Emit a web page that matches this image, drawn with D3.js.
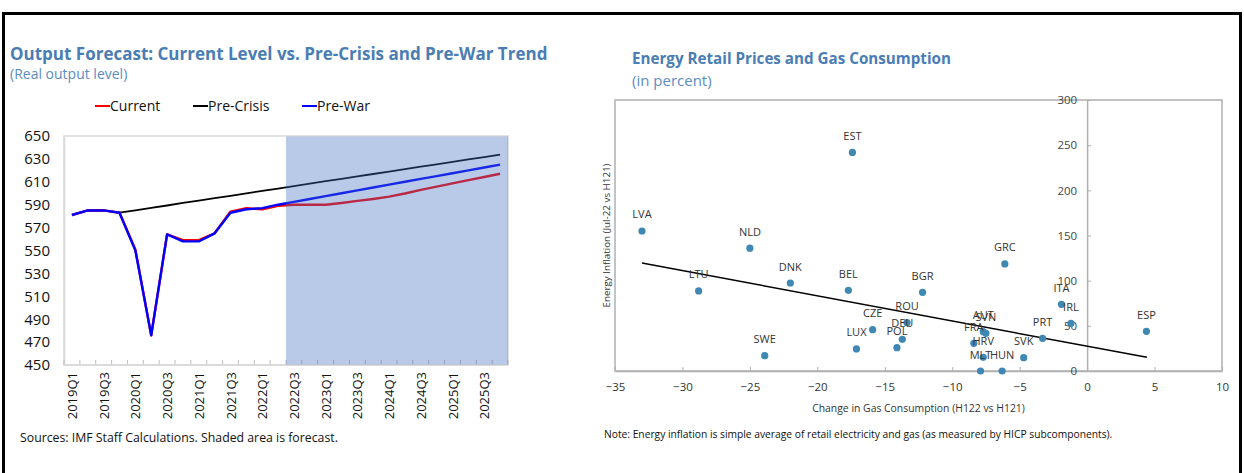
<!DOCTYPE html>
<html>
<head>
<meta charset="utf-8">
<script src="https://cdn.jsdelivr.net/npm/d3@7"></script>
<style>
  body { margin: 0; background: #fff; }
  svg { display: block; font-family: "Open Sans", "Noto Sans", sans-serif; }
</style>
</head>
<body>
<script>
// ---- left chart data: output levels by quarter
var quarters = ["2019Q1","2019Q2","2019Q3","2019Q4","2020Q1","2020Q2","2020Q3","2020Q4",
  "2021Q1","2021Q2","2021Q3","2021Q4","2022Q1","2022Q2","2022Q3","2022Q4",
  "2023Q1","2023Q2","2023Q3","2023Q4","2024Q1","2024Q2","2024Q3","2024Q4",
  "2025Q1","2025Q2","2025Q3","2025Q4"];
var quarterLabels = ["2019Q1","2019Q3","2020Q1","2020Q3","2021Q1","2021Q3","2022Q1",
  "2022Q3","2023Q1","2023Q3","2024Q1","2024Q3","2025Q1","2025Q3"];
var current = [581, 585, 585, 583, 551, 476, 564, 559, 559, 565, 584, 587, 586, 589,
  590, 590, 590, 591.5, 593.3, 595, 597, 599.8, 603, 605.8, 608.6, 611.4, 614.2, 617];
var preCrisis = [581, 585, 585, 583, 585.1, 587.2, 589.3, 591.5, 593.6, 595.7, 597.8, 599.9,
  602, 604.1, 606.2, 608.4, 610.5, 612.6, 614.7, 616.8, 618.9, 621, 623.2, 625.3,
  627.4, 629.5, 631.6, 633.7];
var preWar = [581, 585, 585, 583, 550, 476, 564, 558, 558, 565, 583, 586, 587, 590,
  592.5, 595, 597.5, 600, 602.5, 605, 607.5, 610, 612.5, 615, 617.5, 620, 622.5, 625];
var forecastStart = "2022Q3";
var outputTicks = [450, 470, 490, 510, 530, 550, 570, 590, 610, 630, 650];

// ---- right chart data: gas consumption change vs energy inflation
var countries = ["LVA","NLD","EST","LTU","DNK","BEL","SWE","CZE","LUX","POL","DEU","ROU","BGR",
  "GRC","ITA","IRL","ESP","PRT","SVK","MLT","HUN","HRV","FRA","AUT","SVN"];
var gasChange = [-33, -25, -17.4, -28.8, -22, -17.7, -23.9, -15.9, -17.1, -14.1, -13.7, -13.35, -12.2,
  -6.1, -1.9, -1.2, 4.4, -3.3, -4.7, -7.9, -6.3, -7.7, -8.4, -7.7, -7.5];
var energyInfl = [155, 136, 242, 88.6, 97.4, 89.3, 17, 45.8, 24.4, 25.8, 35.1, 53.5, 87.1,
  118.5, 73.8, 52.8, 43.9, 36.2, 14.8, 0, 0, 15.1, 30.6, 43.5, 41.7];
var trendX = [-33, 4.43];
var trendY = [119.6, 15.1];
var gasTicks = [-35, -30, -25, -20, -15, -10, -5, 0, 5, 10];
var inflTicks = [0, 50, 100, 150, 200, 250, 300];

var titleColor = "#4a7db4";

var svg = d3.select("body").append("svg")
  .attr("width", 1244).attr("height", 473);

// outer frame
svg.append("path")
  .attr("d", "M3.5,480V13.5H1240.5V480")
  .attr("fill", "none").attr("stroke", "#000").attr("stroke-width", 3);

// ================= LEFT CHART =================
var L = svg.append("g");
L.append("text").attr("x", 10).attr("y", 60)
  .attr("font-size", 17).attr("font-weight", "bold").attr("fill", titleColor)
  .text("Output Forecast: Current Level vs. Pre-Crisis and Pre-War Trend");
L.append("text").attr("x", 10).attr("y", 79)
  .attr("font-size", 14).attr("fill", "#5b8cc4")
  .text("(Real output level)");

// legend
var legendItems = [
  { name: "Current", color: "#ff0000", x: 95 },
  { name: "Pre-Crisis", color: "#000000", x: 193 },
  { name: "Pre-War", color: "#0000ff", x: 302 }
];
var lg = L.selectAll(".lg").data(legendItems).enter().append("g")
  .attr("transform", function(d) { return "translate(" + d.x + ",106)"; });
lg.append("line").attr("x1", 0).attr("x2", 15).attr("y1", 0).attr("y2", 0)
  .attr("stroke", function(d) { return d.color; }).attr("stroke-width", 2);
lg.append("text").attr("x", 15).attr("y", 5).attr("font-size", 14).attr("fill", "#111")
  .text(function(d) { return d.name; });

var x = d3.scaleBand().domain(quarters).range([64, 508]);
var y = d3.scaleLinear().domain([450, 650]).range([365, 136]);

// plot frame
L.append("rect").attr("x", 64).attr("y", 136).attr("width", 444).attr("height", 229)
  .attr("fill", "#fff").attr("stroke", "#d9d9d9").attr("stroke-width", 1.5);

// y axis labels
var ya = L.append("g").attr("transform", "translate(64,0)")
  .call(d3.axisLeft(y).tickValues(outputTicks).tickSize(0).tickPadding(14));
ya.select(".domain").attr("stroke", "#d9d9d9").attr("stroke-width", 1.5);
ya.selectAll("text").attr("font-size", 15).attr("fill", "#111")
  .attr("font-family", "Open Sans, sans-serif");

// x axis ticks at category edges, pointing up
var edges = quarters.map(function(q) { return x(q); }).concat([x.range()[1]]);
L.selectAll(".xt").data(edges).enter().append("line")
  .attr("x1", function(d) { return d; }).attr("x2", function(d) { return d; })
  .attr("y1", 365).attr("y2", 360).attr("stroke", "#bfbfbf").attr("stroke-width", 1);
L.append("line").attr("x1", 64).attr("x2", 508).attr("y1", 365).attr("y2", 365)
  .attr("stroke", "#d9d9d9").attr("stroke-width", 1.5);

// x labels (rotated)
L.selectAll(".xl").data(quarterLabels).enter().append("text")
  .attr("transform", function(d) {
    return "translate(" + (x(d) + x.bandwidth() / 2 + 5) + ",372) rotate(-90)";
  })
  .attr("text-anchor", "end").attr("font-size", 13).attr("fill", "#111")
  .text(function(d) { return d; });

// lines
var line = d3.line()
  .x(function(d, i) { return x(quarters[i]) + x.bandwidth() / 2; })
  .y(function(d) { return y(d); });
var series = [
  { values: preCrisis, color: "#000", w: 1.8 },
  { values: current, color: "#ff0000", w: 2.4 },
  { values: preWar, color: "#0000ff", w: 2.4 }
];
L.selectAll(".series").data(series).enter().append("path")
  .attr("d", function(d) { return line(d.values); })
  .attr("fill", "none")
  .attr("stroke", function(d) { return d.color; })
  .attr("stroke-width", function(d) { return d.w; })
  .attr("stroke-linejoin", "round");

// forecast shading (semi-transparent over the lines)
L.append("rect").attr("x", x(forecastStart)).attr("y", 136.5)
  .attr("width", 508 - x(forecastStart)).attr("height", 228)
  .attr("fill", "#3f6fbf").attr("fill-opacity", 0.37);

L.append("text").attr("x", 20).attr("y", 442).attr("font-size", 12.3).attr("fill", "#111")
  .text("Sources: IMF Staff Calculations. Shaded area is forecast.");

// ================= RIGHT CHART =================
var R = svg.append("g");
R.append("text").attr("x", 632).attr("y", 64)
  .attr("font-size", 15.2).attr("font-weight", "bold").attr("fill", titleColor)
  .text("Energy Retail Prices and Gas Consumption");
R.append("text").attr("x", 632).attr("y", 86)
  .attr("font-size", 15).attr("fill", "#5b8cc4")
  .text("(in percent)");

var sx = d3.scaleLinear().domain([-35, 10]).range([615, 1222]);
var sy = d3.scaleLinear().domain([0, 300]).range([371, 100]);

R.append("rect").attr("x", 615).attr("y", 100).attr("width", 607).attr("height", 271)
  .attr("fill", "none").attr("stroke", "#b0b0b0").attr("stroke-width", 1.5);

var xa = R.append("g").attr("transform", "translate(0,371)")
  .call(d3.axisBottom(sx).tickValues(gasTicks).tickSizeInner(-4).tickSizeOuter(0).tickPadding(12));
xa.select(".domain").attr("stroke", "#b0b0b0").attr("stroke-width", 1.5);
xa.selectAll("line").attr("stroke", "#b0b0b0");
xa.selectAll("text").attr("font-size", 11.5).attr("fill", "#333")
  .attr("font-family", "Open Sans, sans-serif");

var ya2 = R.append("g").attr("transform", "translate(" + sx(0) + ",0)")
  .call(d3.axisLeft(sy).tickValues(inflTicks).tickSizeInner(-4).tickSizeOuter(0).tickPadding(10));
ya2.select(".domain").attr("stroke", "#b0b0b0").attr("stroke-width", 1.5);
ya2.selectAll("line").attr("stroke", "#b0b0b0");
ya2.selectAll("text").attr("font-size", 11.5).attr("fill", "#444")
  .attr("font-family", "Open Sans, sans-serif");

R.append("text").attr("x", 918.5).attr("y", 412).attr("text-anchor", "middle")
  .attr("font-size", 10.4).attr("fill", "#333")
  .text("Change in Gas Consumption (H122 vs H121)");
R.append("text").attr("transform", "translate(610,235.5) rotate(-90)")
  .attr("text-anchor", "middle").attr("font-size", 9.8).attr("fill", "#333")
  .text("Energy Inflation (Jul-22 vs H121)");

// trend line
R.append("line")
  .attr("x1", sx(trendX[0])).attr("y1", sy(trendY[0]))
  .attr("x2", sx(trendX[1])).attr("y2", sy(trendY[1]))
  .attr("stroke", "#000").attr("stroke-width", 1.5);

var pts = countries.map(function(c, i) { return { name: c, gx: gasChange[i], inf: energyInfl[i] }; });
R.selectAll(".dot").data(pts).enter().append("circle")
  .attr("cx", function(d) { return sx(d.gx); })
  .attr("cy", function(d) { return sy(d.inf); })
  .attr("r", 3.6).attr("fill", "#3f88b3");
R.selectAll(".lab").data(pts).enter().append("text")
  .attr("x", function(d) { return sx(d.gx); })
  .attr("y", function(d) { return sy(d.inf) - 12.5; })
  .attr("text-anchor", "middle").attr("font-size", 11).attr("fill", "#333")
  .text(function(d) { return d.name; });

R.append("text").attr("x", 604).attr("y", 438).attr("font-size", 10.25).attr("fill", "#111")
  .text("Note: Energy inflation is simple average of retail electricity and gas (as measured by HICP subcomponents).");
</script>
</body>
</html>
